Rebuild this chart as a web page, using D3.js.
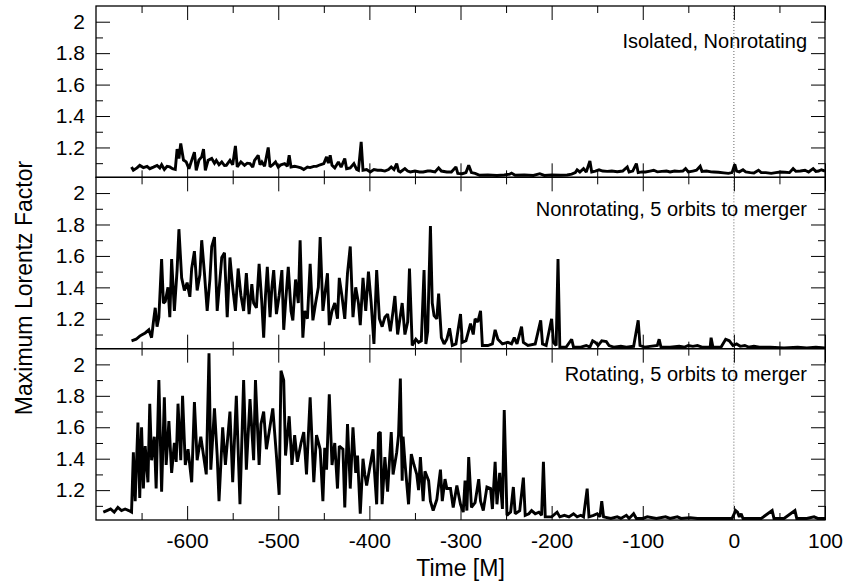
<!DOCTYPE html>
<html>
<head>
<meta charset="utf-8">
<script src="https://cdn.jsdelivr.net/npm/d3@7"></script>
<style>
  body { margin: 0; background: #fff; }
  text { font-family: 'Liberation Sans', Arial, Helvetica, sans-serif; }
</style>
</head>
<body>
<div class="canvas"></div>
<script>
// DATA -------------------------------------------------------------------------
const panelLabels = ['Isolated, Nonrotating', 'Nonrotating, 5 orbits to merger', 'Rotating, 5 orbits to merger'];
const yMajorTicks = [1.2, 1.4, 1.6, 1.8, 2];
const yMinorTicks = [1.1, 1.3, 1.5, 1.7, 1.9];
const xMajorTicks = [-600, -500, -400, -300, -200, -100, 0, 100];
const xMinorTicks = [-650, -550, -450, -350, -250, -150, -50, 50];

// [time, max Lorentz factor]
const isolated = [
[-661,1.076],[-659,1.055],[-655,1.07],[-652,1.086],[-648,1.072],[-644,1.08],[-641,1.065],[-637,1.075],[-633,1.086],[-630,1.07],
[-628,1.09],[-625,1.06],[-622,1.08],[-619,1.076],[-616,1.065],[-613,1.06],[-611,1.19],[-609,1.13],[-607,1.225],[-604,1.12],
[-601,1.108],[-598,1.065],[-595,1.118],[-592,1.17],[-590,1.055],[-587,1.12],[-584,1.14],[-582,1.19],[-580,1.055],[-577,1.118],
[-573,1.13],[-570,1.10],[-568,1.118],[-565,1.09],[-562,1.108],[-559,1.085],[-557,1.086],[-553,1.118],[-550,1.09],[-547,1.21],
[-545,1.076],[-541,1.108],[-537,1.086],[-534,1.10],[-531,1.097],[-528,1.075],[-526,1.118],[-522,1.15],[-520,1.09],[-518,1.108],
[-515,1.08],[-511,1.20],[-509,1.076],[-506,1.09],[-503,1.108],[-500,1.075],[-497,1.09],[-493,1.097],[-490,1.08],[-488,1.15],
[-486,1.076],[-482,1.08],[-479,1.076],[-475,1.07],[-472,1.06],[-468,1.075],[-465,1.072],[-461,1.08],[-458,1.08],[-454,1.09],
[-450,1.097],[-447,1.14],[-445,1.10],[-443,1.15],[-441,1.086],[-438,1.07],[-434,1.108],[-431,1.075],[-427,1.13],[-425,1.065],
[-421,1.07],[-417,1.097],[-414,1.06],[-412,1.055],[-409,1.235],[-407,1.055],[-403,1.06],[-399,1.044],[-395,1.06],[-391,1.055],
[-387,1.055],[-383,1.05],[-379,1.06],[-376,1.076],[-373,1.06],[-370,1.097],[-368,1.05],[-366,1.044],[-361,1.065],[-358,1.05],
[-355,1.044],[-350,1.05],[-345,1.044],[-341,1.044],[-336,1.05],[-333,1.05],[-328,1.044],[-324,1.07],[-321,1.05],[-315,1.044],
[-310,1.044],[-305,1.076],[-303,1.035],[-298,1.033],[-294,1.04],[-291,1.087],[-288,1.04],[-284,1.035],[-279,1.023],[-270,1.025],
[-260,1.022],[-252,1.025],[-246,1.03],[-244,1.037],[-240,1.023],[-230,1.025],[-220,1.022],[-213,1.033],[-208,1.022],[-200,1.025],
[-190,1.023],[-183,1.025],[-178,1.03],[-174,1.04],[-172,1.058],[-169,1.044],[-165,1.065],[-162,1.044],[-158,1.114],[-156,1.044],
[-152,1.05],[-148,1.058],[-144,1.05],[-139,1.048],[-134,1.05],[-128,1.046],[-122,1.05],[-117,1.076],[-115,1.044],[-111,1.05],
[-107,1.097],[-105,1.04],[-101,1.045],[-97,1.044],[-92,1.05],[-88,1.055],[-84,1.045],[-79,1.048],[-74,1.05],[-70,1.044],
[-65,1.05],[-60,1.048],[-56,1.05],[-53,1.065],[-50,1.044],[-45,1.05],[-41,1.055],[-37,1.08],[-35,1.048],[-30,1.05],
[-25,1.045],[-22,1.044],[-17,1.042],[-11,1.038],[-6,1.035],[-2,1.04],[1,1.093],[3,1.05],[6,1.045],[10,1.058],
[13,1.045],[18,1.04],[22,1.038],[27,1.055],[30,1.04],[35,1.04],[41,1.035],[46,1.04],[51,1.044],[56,1.042],
[61,1.04],[65,1.065],[68,1.048],[73,1.05],[78,1.055],[82,1.044],[87,1.065],[90,1.048],[93,1.05],[96,1.058],[100,1.05]
];

const nonrotating = [
[-661,1.06],[-656,1.07],[-652,1.09],[-649,1.10],[-646,1.11],[-642,1.13],[-639,1.08],[-637,1.18],[-635,1.27],[-633,1.15],
[-631,1.21],[-628,1.58],[-626,1.30],[-624,1.31],[-621,1.40],[-619,1.21],[-617,1.58],[-614,1.25],[-611,1.51],[-609,1.77],
[-606,1.46],[-603,1.38],[-600,1.43],[-597,1.34],[-595,1.52],[-592,1.63],[-589,1.38],[-586,1.48],[-584,1.70],[-581,1.49],
[-578,1.25],[-575,1.45],[-573,1.66],[-570,1.72],[-567,1.25],[-564,1.45],[-562,1.59],[-559,1.62],[-556,1.21],[-553,1.59],
[-550,1.40],[-547,1.25],[-544,1.52],[-541,1.35],[-538,1.25],[-535,1.49],[-532,1.23],[-529,1.42],[-527,1.30],[-524,1.27],
[-521,1.55],[-518,1.30],[-516,1.08],[-514,1.35],[-512,1.53],[-509,1.21],[-507,1.40],[-505,1.51],[-502,1.23],[-499,1.35],
[-496,1.51],[-494,1.13],[-492,1.30],[-489,1.53],[-486,1.25],[-484,1.19],[-481,1.45],[-478,1.30],[-476,1.70],[-473,1.08],
[-471,1.25],[-468,1.20],[-465,1.55],[-462,1.19],[-459,1.30],[-456,1.40],[-454,1.72],[-451,1.25],[-449,1.35],[-446,1.49],
[-444,1.16],[-441,1.25],[-438,1.30],[-435,1.20],[-433,1.46],[-430,1.34],[-427,1.20],[-424,1.49],[-421,1.66],[-418,1.21],
[-415,1.40],[-412,1.30],[-410,1.16],[-407,1.46],[-404,1.25],[-401,1.50],[-398,1.30],[-395,1.04],[-392,1.51],[-389,1.20],
[-386,1.15],[-383,1.21],[-380,1.23],[-377,1.12],[-374,1.25],[-372,1.345],[-369,1.10],[-366,1.22],[-364,1.30],[-361,1.10],
[-358,1.18],[-356,1.52],[-353,1.03],[-349,1.07],[-346,1.05],[-343,1.06],[-340,1.51],[-338,1.04],[-336,1.12],[-333,1.79],
[-331,1.30],[-329,1.22],[-326,1.20],[-324,1.36],[-321,1.08],[-318,1.04],[-315,1.07],[-312,1.14],[-309,1.03],[-305,1.04],
[-300,1.23],[-298,1.05],[-294,1.06],[-289,1.17],[-286,1.10],[-284,1.20],[-281,1.18],[-278,1.25],[-276,1.03],[-270,1.03],
[-265,1.04],[-262,1.13],[-259,1.07],[-254,1.04],[-248,1.05],[-244,1.04],[-241,1.08],[-238,1.04],[-233,1.15],[-231,1.05],
[-226,1.03],[-218,1.04],[-212,1.19],[-210,1.04],[-206,1.03],[-200,1.20],[-198,1.05],[-195,1.03],[-193,1.58],[-191,1.02],
[-184,1.02],[-178,1.07],[-176,1.02],[-168,1.02],[-162,1.03],[-158,1.02],[-155,1.06],[-152,1.05],[-149,1.03],[-145,1.06],
[-140,1.055],[-137,1.03],[-132,1.02],[-124,1.025],[-118,1.02],[-110,1.025],[-105,1.19],[-103,1.03],[-98,1.02],[-84,1.03],
[-82,1.07],[-80,1.02],[-70,1.02],[-60,1.025],[-54,1.02],[-50,1.03],[-45,1.025],[-40,1.03],[-35,1.02],[-26,1.02],
[-25,1.08],[-23,1.02],[-14,1.02],[-9,1.07],[-5,1.06],[-1,1.03],[3,1.04],[7,1.025],[12,1.03],[16,1.02],
[22,1.025],[28,1.02],[40,1.02],[55,1.015],[70,1.02],[80,1.015],[90,1.02],[100,1.015]
];

const rotating = [
[-692,1.06],[-688,1.07],[-684,1.08],[-680,1.06],[-676,1.09],[-672,1.07],[-668,1.08],[-664,1.07],[-661,1.06],[-659,1.44],
[-657,1.13],[-654,1.63],[-652,1.15],[-650,1.60],[-648,1.21],[-646,1.48],[-643,1.25],[-641,1.75],[-639,1.39],[-636,1.54],
[-634,1.21],[-631,1.90],[-628,1.19],[-625,1.79],[-623,1.36],[-620,1.64],[-617,1.31],[-614,1.50],[-612,1.38],[-610,1.75],
[-607,1.39],[-605,1.80],[-602,1.36],[-599,1.46],[-595,1.25],[-592,1.76],[-589,1.39],[-585,1.54],[-582,1.42],[-579,1.30],
[-576,2.07],[-574,1.33],[-570,1.72],[-567,1.42],[-565,1.13],[-561,1.60],[-558,1.36],[-553,1.70],[-550,1.25],[-546,1.80],
[-542,1.11],[-538,1.90],[-535,1.33],[-531,1.78],[-527,1.39],[-525,1.90],[-521,1.36],[-519,1.62],[-516,1.70],[-513,1.46],
[-510,1.57],[-506,1.72],[-502,1.42],[-499,1.17],[-497,1.96],[-494,1.90],[-492,1.42],[-488,1.67],[-485,1.36],[-482,1.55],
[-479,1.38],[-475,1.50],[-472,1.57],[-469,1.30],[-465,1.79],[-461,1.25],[-458,1.55],[-454,1.46],[-451,1.13],[-449,1.47],
[-447,1.33],[-444,1.81],[-441,1.36],[-438,1.50],[-435,1.21],[-433,1.48],[-429,1.46],[-427,1.09],[-424,1.62],[-421,1.21],
[-418,1.60],[-415,1.31],[-413,1.42],[-410,1.05],[-407,1.40],[-405,1.30],[-403,1.23],[-400,1.33],[-396,1.46],[-392,1.11],
[-390,1.56],[-388,1.57],[-386,1.11],[-383,1.41],[-380,1.19],[-376,1.57],[-374,1.30],[-370,1.44],[-368,1.55],[-366,1.91],
[-364,1.26],[-363,1.54],[-361,1.38],[-357,1.11],[-354,1.43],[-351,1.36],[-348,1.30],[-346,1.20],[-344,1.41],[-341,1.13],
[-339,1.32],[-335,1.26],[-333,1.13],[-330,1.07],[-326,1.14],[-322,1.33],[-320,1.13],[-317,1.27],[-315,1.21],[-311,1.21],
[-308,1.09],[-304,1.23],[-300,1.11],[-297,1.06],[-295,1.26],[-293,1.07],[-291,1.41],[-288,1.09],[-284,1.12],[-280,1.27],
[-278,1.13],[-275,1.07],[-271,1.22],[-267,1.21],[-265,1.08],[-262,1.38],[-260,1.11],[-257,1.31],[-254,1.08],[-252,1.71],
[-249,1.04],[-245,1.06],[-242,1.22],[-240,1.05],[-235,1.07],[-231,1.28],[-229,1.04],[-225,1.05],[-222,1.07],[-218,1.05],
[-214,1.06],[-211,1.04],[-209,1.38],[-207,1.03],[-200,1.03],[-194,1.06],[-191,1.03],[-186,1.04],[-181,1.03],[-176,1.05],
[-172,1.03],[-168,1.04],[-165,1.03],[-161,1.21],[-159,1.03],[-154,1.04],[-150,1.05],[-147,1.03],[-145,1.13],[-143,1.03],
[-135,1.02],[-128,1.03],[-124,1.02],[-118,1.04],[-115,1.02],[-110,1.05],[-107,1.02],[-100,1.02],[-95,1.03],[-85,1.02],
[-75,1.03],[-70,1.02],[-62,1.03],[-58,1.02],[-48,1.025],[-40,1.02],[-30,1.02],[-20,1.02],[-10,1.02],[-2,1.02],
[2,1.07],[4,1.06],[6,1.03],[8,1.05],[10,1.02],[20,1.02],[30,1.02],[42,1.07],[44,1.02],[55,1.02],
[67,1.07],[69,1.02],[80,1.02],[88,1.03],[92,1.02],[100,1.02]
];

// SET UP GRAPH -----------------------------------------------------------------
const width = 844;
const height = 586;
const margin = { top: 6, right: 19, bottom: 66, left: 96 };
const graphWidth = width - margin.left - margin.right;
const graphHeight = height - margin.top - margin.bottom;
const panelHeight = graphHeight / 3;

const svg = d3.select('.canvas')
    .append('svg')
        .attr('width', width)
        .attr('height', height);

const x = d3.scaleLinear().domain([-700, 100]).range([0, graphWidth]);
const y = d3.scaleLinear().domain([1.01, 2.1]).range([panelHeight, 0]);

const line = d3.line()
    .x(d => x(d[0]))
    .y(d => y(d[1]));

const series = [isolated, nonrotating, rotating];
const labelBaselines = [42, 39, 32];      // label position below each panel top

// Style an axis group: no domain line, black ticks, tick label font
const styleAxis = g => {
    g.select('.domain').remove();
    g.selectAll('.tick line').attr('stroke', '#000').attr('stroke-width', 1);
    g.attr('font-family', "'Liberation Sans', Arial, Helvetica, sans-serif")
        .attr('font-size', 21)
        .selectAll('text').attr('fill', '#000');
};

// PANELS -----------------------------------------------------------------------
series.forEach((data, i) => {
    const panel = svg.append('g')
        .attr('transform', `translate(${margin.left}, ${margin.top + i * panelHeight})`);

    panel.append('clipPath')
        .attr('id', 'clip' + i)
        .append('rect')
            .attr('width', graphWidth)
            .attr('height', panelHeight);

    // Dotted line at merger time
    panel.append('line')
        .attr('x1', x(0)).attr('x2', x(0))
        .attr('y1', 0).attr('y2', panelHeight)
        .attr('stroke', '#666')
        .attr('stroke-width', 1)
        .attr('stroke-dasharray', '1,2');

    panel.append('path')
        .datum(data)
        .attr('clip-path', `url(#clip${i})`)
        .attr('d', line)
        .attr('fill', 'none')
        .attr('stroke', '#000')
        .attr('stroke-width', 2.9)
        .attr('stroke-linejoin', 'miter')
        .attr('stroke-miterlimit', 2);

    // Left axis (ticks inside, labels outside)
    panel.append('g')
        .call(d3.axisLeft(y).tickValues(yMajorTicks).tickSizeInner(-14).tickSizeOuter(0)
            .tickPadding(11).tickFormat(d => String(+d.toFixed(1))))
        .call(styleAxis);
    panel.append('g')
        .call(d3.axisLeft(y).tickValues(yMinorTicks).tickSizeInner(-7).tickSizeOuter(0).tickFormat(''))
        .call(styleAxis);

    // Right axis (ticks only)
    panel.append('g')
        .attr('transform', `translate(${graphWidth}, 0)`)
        .call(d3.axisRight(y).tickValues(yMajorTicks).tickSizeInner(-14).tickSizeOuter(0).tickFormat(''))
        .call(styleAxis);
    panel.append('g')
        .attr('transform', `translate(${graphWidth}, 0)`)
        .call(d3.axisRight(y).tickValues(yMinorTicks).tickSizeInner(-7).tickSizeOuter(0).tickFormat(''))
        .call(styleAxis);

    // Top axis (ticks only)
    panel.append('g')
        .call(d3.axisTop(x).tickValues(xMajorTicks).tickSizeInner(-14).tickSizeOuter(0).tickFormat(''))
        .call(styleAxis);
    panel.append('g')
        .call(d3.axisTop(x).tickValues(xMinorTicks).tickSizeInner(-7).tickSizeOuter(0).tickFormat(''))
        .call(styleAxis);

    // Bottom axis (labels only on the last panel)
    panel.append('g')
        .attr('transform', `translate(0, ${panelHeight})`)
        .call(d3.axisBottom(x).tickValues(xMajorTicks).tickSizeInner(-14).tickSizeOuter(0)
            .tickPadding(13).tickFormat(i === 2 ? (d => String(d)) : ''))
        .call(styleAxis);
    panel.append('g')
        .attr('transform', `translate(0, ${panelHeight})`)
        .call(d3.axisBottom(x).tickValues(xMinorTicks).tickSizeInner(-7).tickSizeOuter(0).tickFormat(''))
        .call(styleAxis);

    // Frame
    panel.append('rect')
        .attr('width', graphWidth)
        .attr('height', panelHeight)
        .attr('fill', 'none')
        .attr('stroke', '#000')
        .attr('stroke-width', 1.3);

    // Panel label
    panel.append('text')
        .attr('x', graphWidth - 18)
        .attr('y', labelBaselines[i])
        .attr('text-anchor', 'end')
        .style('font-size', '20px')
        .attr('fill', '#000')
        .text(panelLabels[i]);
});

// AXIS TITLES ------------------------------------------------------------------
svg.append('text')
    .attr('text-anchor', 'middle')
    .attr('x', margin.left + graphWidth / 2)
    .attr('y', 576)
    .style('font-size', '23px')
    .attr('fill', '#000')
    .text('Time [M]');

svg.append('text')
    .attr('text-anchor', 'middle')
    .attr('transform', 'translate(32, 288) rotate(-90)')
    .style('font-size', '23px')
    .attr('fill', '#000')
    .text('Maximum Lorentz Factor');
</script>
</body>
</html>
